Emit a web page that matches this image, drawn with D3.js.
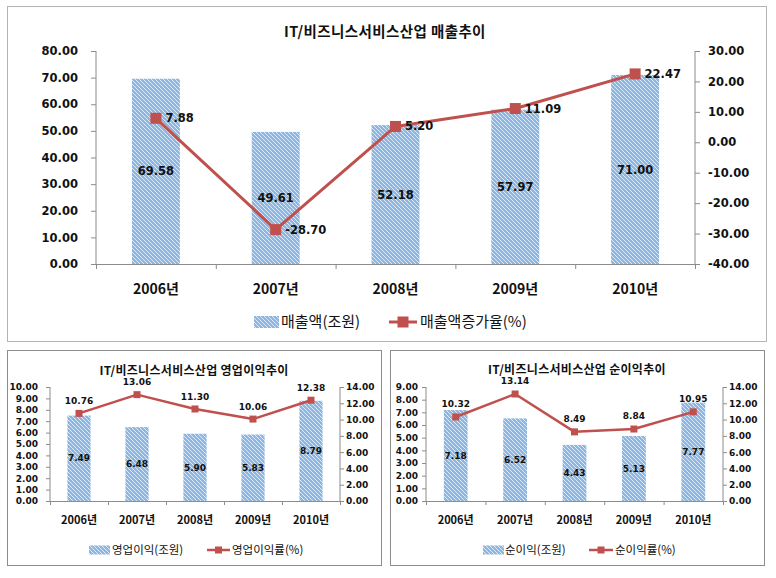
<!DOCTYPE html>
<html><head><meta charset="utf-8">
<script src="https://cdn.jsdelivr.net/npm/d3@7"></script>
<style>
html,body{margin:0;padding:0;background:#fff;}
svg{display:block;}
</style></head>
<body>
<svg id="chart" width="776" height="578"></svg>
<script>
// ---------- data ----------
const categories = ["2006년", "2007년", "2008년", "2009년", "2010년"];

const salesTitle = "IT/비즈니스서비스산업 매출추이";
const salesValues = [69.58, 49.61, 52.18, 57.97, 71.00];
const salesGrowth = [7.88, -28.70, 5.20, 11.09, 22.47];
const salesLegend = ["매출액(조원)", "매출액증가율(%)"];
const salesLeftTicks = [0, 10, 20, 30, 40, 50, 60, 70, 80];
const salesRightTicks = [-40, -30, -20, -10, 0, 10, 20, 30];

const opTitle = "IT/비즈니스서비스산업 영업이익추이";
const opProfit = [7.49, 6.48, 5.90, 5.83, 8.79];
const opMargin = [10.76, 13.06, 11.30, 10.06, 12.38];
const opLegend = ["영업이익(조원)", "영업이익률(%)"];
const opLeftTicks = [0, 1, 2, 3, 4, 5, 6, 7, 8, 9, 10];
const opRightTicks = [0, 2, 4, 6, 8, 10, 12, 14];

const netTitle = "IT/비즈니스서비스산업 순이익추이";
const netProfit = [7.18, 6.52, 4.43, 5.13, 7.77];
const netMargin = [10.32, 13.14, 8.49, 8.84, 10.95];
const netLegend = ["순이익(조원)", "순이익률(%)"];
const netLeftTicks = [0, 1, 2, 3, 4, 5, 6, 7, 8, 9];
const netRightTicks = [0, 2, 4, 6, 8, 10, 12, 14];

// ---------- drawing ----------
const svg = d3.select("#chart");
const NUM = "'DejaVu Sans', Verdana, sans-serif";
const KR = "'Noto Sans CJK KR', 'Noto Sans', sans-serif";
const RED = "#c0504d";
const AXIS = "#8c8c8c";
const fmt = d => (+d).toFixed(2);

const defs = svg.append("defs");
const pat = defs.append("pattern").attr("id", "hatch")
  .attr("width", 4).attr("height", 4).attr("patternUnits", "userSpaceOnUse");
pat.append("rect").attr("width", 4).attr("height", 4).attr("fill", "#8cb6e3");
pat.append("path").attr("d", "M-1,-1 L5,5 M-1,3 L1,5 M3,-1 L5,1")
  .attr("stroke", "#dceaf7").attr("stroke-width", 1);

function panel(o) {
  const g = svg.append("g");
  // frame
  g.append("rect").attr("x", o.frame[0] + 0.5).attr("y", o.frame[1] + 0.5)
    .attr("width", o.frame[2] - o.frame[0]).attr("height", o.frame[3] - o.frame[1])
    .attr("fill", "#fff").attr("stroke", o.frameColor).attr("stroke-width", 1);

  const x = d3.scaleBand().domain(categories).range([o.left, o.right])
    .paddingInner(0.6).paddingOuter(0.3);
  const yL = d3.scaleLinear().domain(o.leftDomain).range([o.bottom, o.top]);
  const yR = d3.scaleLinear().domain(o.rightDomain).range([o.bottom, o.top]);
  const cx = c => x(c) + x.bandwidth() / 2;

  // title
  g.append("text").attr("x", o.titleX).attr("y", o.titleY).attr("dy", "0.35em")
    .attr("text-anchor", "middle").attr("font-family", KR).attr("font-weight", "bold")
    .attr("font-size", o.titleSize).attr("letter-spacing", o.titleLS || 0)
    .attr("fill", "#111").text(o.title);

  // axes
  const la = g.append("g").attr("transform", `translate(${o.left},0)`)
    .call(d3.axisLeft(yL).tickValues(o.leftTicks).tickSize(o.tick).tickSizeOuter(o.tick)
      .tickPadding(o.lPad).tickFormat(fmt));
  const ra = g.append("g").attr("transform", `translate(${o.right},0)`)
    .call(d3.axisRight(yR).tickValues(o.rightTicks).tickSize(o.tick).tickSizeOuter(o.tick)
      .tickPadding(o.rPad).tickFormat(fmt));
  [la, ra].forEach(a => {
    a.select(".domain").attr("stroke", AXIS).attr("d", `M0,${o.top}V${o.bottom}`);
    a.selectAll(".tick line").attr("stroke", AXIS);
    a.selectAll(".tick text").attr("font-family", NUM).attr("font-weight", "bold")
      .attr("font-size", o.tickSize).attr("fill", "#111");
  });

  // bars
  g.append("g").selectAll("rect").data(o.bars).join("rect")
    .attr("x", (d, i) => x(categories[i])).attr("width", x.bandwidth())
    .attr("y", d => yL(d)).attr("height", d => yL(0) - yL(d))
    .attr("fill", "url(#hatch)");

  // x axis line and boundary ticks
  const xa = g.append("g");
  xa.append("line").attr("x1", o.left).attr("x2", o.right)
    .attr("y1", o.bottom + 0.5).attr("y2", o.bottom + 0.5).attr("stroke", AXIS);
  const bounds = d3.range(categories.length + 1).map(i => o.left + i * x.step());
  xa.selectAll("line.b").data(bounds).join("line").attr("class", "b")
    .attr("x1", d => d + 0.5).attr("x2", d => d + 0.5)
    .attr("y1", o.bottom).attr("y2", o.bottom + o.tick).attr("stroke", AXIS);
  xa.selectAll("text").data(categories).join("text")
    .attr("x", d => cx(d)).attr("y", o.xLabelY).attr("dy", "0.35em")
    .attr("text-anchor", "middle").attr("font-family", KR).attr("font-weight", "bold")
    .attr("font-size", o.xSize).attr("fill", "#111").text(d => d);

  // bar labels (centered)
  g.append("g").selectAll("text").data(o.bars).join("text")
    .attr("x", (d, i) => cx(categories[i]))
    .attr("y", d => (yL(d) + yL(0)) / 2).attr("dy", "0.35em")
    .attr("text-anchor", "middle").attr("font-family", NUM).attr("font-weight", "bold")
    .attr("font-size", o.labelSize).attr("fill", "#111").text(d => fmt(d));

  // line
  const line = d3.line().x((d, i) => cx(categories[i])).y(d => yR(d));
  g.append("path").datum(o.line).attr("d", line).attr("fill", "none")
    .attr("stroke", RED).attr("stroke-width", o.lineW).attr("stroke-linejoin", "round");
  g.append("g").selectAll("rect").data(o.line).join("rect")
    .attr("x", (d, i) => cx(categories[i]) - o.mk / 2).attr("y", d => yR(d) - o.mk / 2)
    .attr("width", o.mk).attr("height", o.mk).attr("fill", RED);

  // line labels
  g.append("g").selectAll("text").data(o.line).join("text")
    .attr("x", (d, i) => cx(categories[i]) + (o.lineLabelRight ? o.mk / 2 + 4 : 0))
    .attr("y", d => yR(d) - (o.lineLabelRight ? 0 : o.aboveOff)).attr("dy", "0.35em")
    .attr("text-anchor", o.lineLabelRight ? "start" : "middle")
    .attr("font-family", NUM).attr("font-weight", "bold")
    .attr("font-size", o.labelSize).attr("fill", "#111").text(d => fmt(d));

  // legend
  const lg = g.append("g");
  lg.append("rect").attr("x", o.leg.bx).attr("y", o.leg.y - o.leg.bh / 2)
    .attr("width", o.leg.bw).attr("height", o.leg.bh).attr("fill", "url(#hatch)");
  lg.append("text").attr("x", o.leg.bt).attr("y", o.leg.y).attr("dy", "0.35em")
    .attr("font-family", KR).attr("font-size", o.leg.size).attr("fill", "#111")
    .text(o.legend[0]);
  lg.append("line").attr("x1", o.leg.lx).attr("x2", o.leg.lx + o.leg.lw)
    .attr("y1", o.leg.y).attr("y2", o.leg.y).attr("stroke", RED).attr("stroke-width", o.lineW);
  lg.append("rect").attr("x", o.leg.lx + o.leg.lw / 2 - o.mk / 2).attr("y", o.leg.y - o.mk / 2)
    .attr("width", o.mk).attr("height", o.mk).attr("fill", RED);
  lg.append("text").attr("x", o.leg.lt).attr("y", o.leg.y).attr("dy", "0.35em")
    .attr("font-family", KR).attr("font-size", o.leg.size).attr("fill", "#111")
    .text(o.legend[1]);
}

panel({
  frame: [7, 6, 766, 341], frameColor: "#b4b4b4",
  left: 96, right: 695, top: 51, bottom: 264,
  leftDomain: [0, 80], rightDomain: [-40, 30],
  leftTicks: salesLeftTicks, rightTicks: salesRightTicks,
  tick: 5, lPad: 13, rPad: 8, tickSize: 11.5,
  title: salesTitle, titleX: 385, titleY: 32, titleSize: 14.5, titleLS: 0.4,
  xLabelY: 289, xSize: 14,
  bars: salesValues, line: salesGrowth, labelSize: 11.5,
  lineW: 3, mk: 11, lineLabelRight: true,
  legend: salesLegend,
  leg: { y: 322, bx: 254, bw: 25, bh: 12, bt: 281, lx: 389, lw: 28, lt: 420, size: 15 }
});

panel({
  frame: [7, 350, 381, 565], frameColor: "#8c8c8c",
  left: 50, right: 340, top: 387, bottom: 501,
  leftDomain: [0, 10], rightDomain: [0, 14],
  leftTicks: opLeftTicks, rightTicks: opRightTicks,
  tick: 4, lPad: 8, rPad: 2, tickSize: 9,
  title: opTitle, titleX: 194, titleY: 371, titleSize: 12, titleLS: 0.3,
  xLabelY: 520, xSize: 11,
  bars: opProfit, line: opMargin, labelSize: 9,
  lineW: 2.5, mk: 7, lineLabelRight: false, aboveOff: 12.5,
  legend: opLegend,
  leg: { y: 550, bx: 89, bw: 21, bh: 9, bt: 112, lx: 207, lw: 23, lt: 232, size: 11.5 }
});

panel({
  frame: [390, 350, 764, 565], frameColor: "#8c8c8c",
  left: 426, right: 723, top: 387, bottom: 501,
  leftDomain: [0, 9], rightDomain: [0, 14],
  leftTicks: netLeftTicks, rightTicks: netRightTicks,
  tick: 4, lPad: 4, rPad: 2, tickSize: 9,
  title: netTitle, titleX: 577, titleY: 370, titleSize: 12, titleLS: 0.3,
  xLabelY: 520, xSize: 11,
  bars: netProfit, line: netMargin, labelSize: 9,
  lineW: 2.5, mk: 7, lineLabelRight: false, aboveOff: 13,
  legend: netLegend,
  leg: { y: 550, bx: 483, bw: 21, bh: 9, bt: 505, lx: 589, lw: 24, lt: 615, size: 11.5 }
});
</script>
</body></html>
